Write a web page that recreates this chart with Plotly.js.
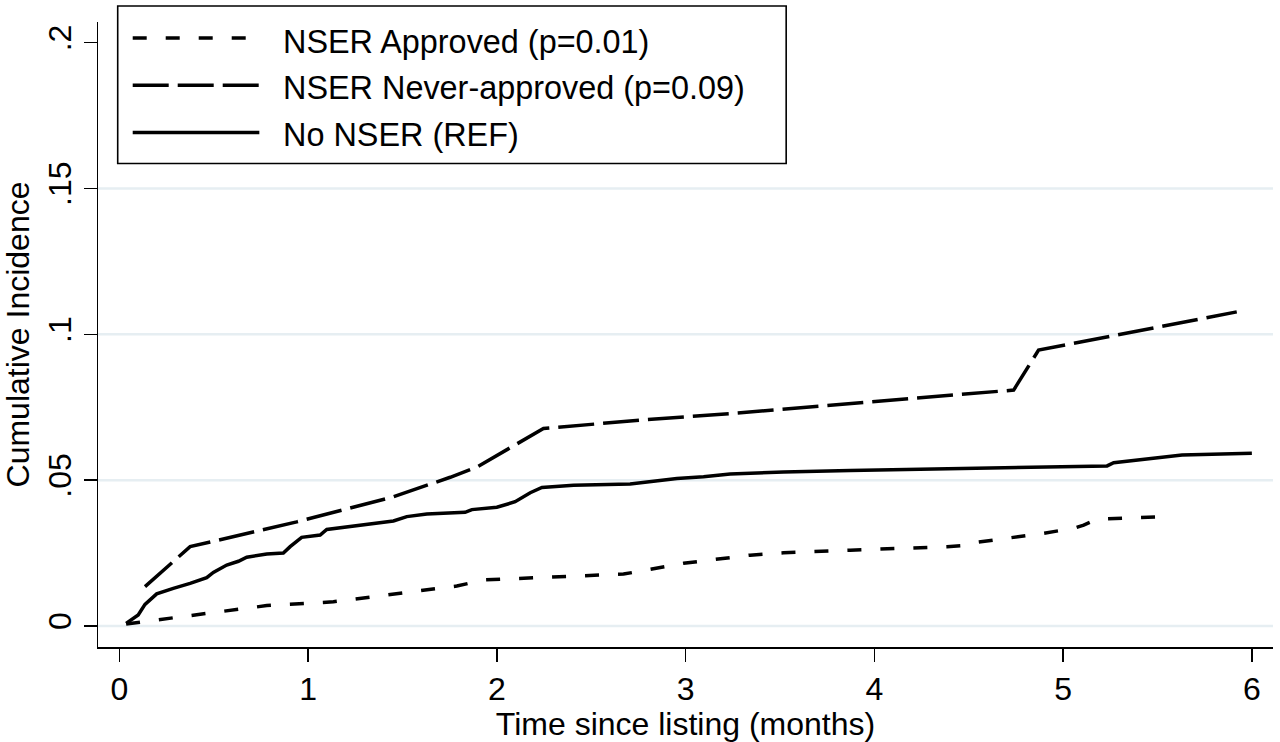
<!DOCTYPE html>
<html>
<head>
<meta charset="utf-8">
<script src="https://cdn.plot.ly/plotly-3.0.1.min.js"></script>
<style>html,body{margin:0;padding:0;background:#fff;}#chart{width:1280px;height:742px;}</style>
</head>
<body>
<div id="chart"></div>
<script>
// ---- Data ----
var seriesNames = ['NSER Approved (p=0.01)', 'NSER Never-approved (p=0.09)', 'No NSER (REF)'];

var approvedX = [0.036, 0.216, 0.428, 0.781, 1.134, 1.488, 1.594, 1.788, 1.929, 2.282, 2.671, 2.795, 2.989, 3.342, 3.519, 3.872, 4.385, 4.508, 4.544, 4.897, 5.056, 5.109, 5.180, 5.524];
var approvedY = [0.0007, 0.0022, 0.0040, 0.0070, 0.0083, 0.0112, 0.0123, 0.0137, 0.0158, 0.0167, 0.0178, 0.0192, 0.0215, 0.0243, 0.0251, 0.0260, 0.0272, 0.0278, 0.0287, 0.0318, 0.0335, 0.0346, 0.0366, 0.0375];

var neverX = [0.136, 0.375, 0.940, 1.452, 1.753, 1.894, 2.247, 2.759, 3.254, 3.872, 4.226, 4.703, 4.738, 4.870, 5.920];
var neverY = [0.0135, 0.0272, 0.0357, 0.0443, 0.0510, 0.0545, 0.0677, 0.0706, 0.0729, 0.0763, 0.0780, 0.0806, 0.0809, 0.0946, 0.1077];

var noNserX = [0.036, 0.100, 0.136, 0.198, 0.286, 0.375, 0.463, 0.498, 0.569, 0.631, 0.675, 0.781, 0.869, 0.905, 0.966, 1.064, 1.099, 1.205, 1.311, 1.452, 1.523, 1.629, 1.832, 1.868, 2.000, 2.097, 2.177, 2.239, 2.406, 2.706, 2.954, 3.095, 3.236, 3.519, 3.872, 4.579, 5.233, 5.268, 5.374, 5.533, 5.630, 6.000];
var noNserY = [0.0009, 0.0038, 0.0074, 0.0110, 0.0129, 0.0146, 0.0166, 0.0184, 0.0209, 0.0222, 0.0236, 0.0247, 0.0250, 0.0272, 0.0304, 0.0312, 0.0331, 0.0340, 0.0346, 0.0360, 0.0375, 0.0384, 0.0390, 0.0399, 0.0407, 0.0426, 0.0457, 0.0475, 0.0483, 0.0487, 0.0506, 0.0512, 0.0521, 0.0528, 0.0533, 0.0540, 0.0549, 0.0560, 0.0567, 0.0577, 0.0586, 0.0592];

var xTickVals = [0, 1, 2, 3, 4, 5, 6];
var yTickVals = [0, 0.05, 0.1, 0.15, 0.2];
var yTickText = ['0', '.05', '.1', '.15', '.2'];
var gridVals = [0, 0.05, 0.1, 0.15];

// ---- Styles ----
var FONT = 'Liberation Sans, Arial, sans-serif';
var dashes = ['14px,19px', '36px,9px', 'solid'];
var LW = 3.5;

var xs = [approvedX, neverX, noNserX];
var ys = [approvedY, neverY, noNserY];

var traces = xs.map(function (x, i) {
  return {
    x: x, y: ys[i], name: seriesNames[i], type: 'scatter', mode: 'lines',
    line: {color: '#000', width: LW, dash: dashes[i], shape: 'linear'},
    showlegend: false, hoverinfo: 'skip'
  };
});

// plot-area geometry (pixels) used to place the hand-drawn legend box
var L = 98, R = 7.3, T = 21.7, B = 95;
var W = 1280 - L - R, H = 742 - T - B;
function px(p) { return (p - L) / W; }
function py(p) { return (742 - B - p) / H; }

var shapes = gridVals.map(function (v) {
  return {type: 'line', xref: 'paper', yref: 'y', x0: 0, x1: 1, y0: v, y1: v,
          line: {color: '#e6eef2', width: 2.5}, layer: 'below'};
});
shapes.push({type: 'rect', xref: 'paper', yref: 'paper', x0: px(117.7), x1: px(786), y0: py(5.7), y1: py(163.3),
             line: {color: '#000', width: 1.6}, fillcolor: '#fff', layer: 'above'});
var rowLineY = [37.8, 85, 132.3];
var rowTextY = [41.3, 88, 134.7];
var annotations = [];
seriesNames.forEach(function (n, i) {
  shapes.push({type: 'line', xref: 'paper', yref: 'paper', x0: px(132.7), x1: px(259.3), y0: py(rowLineY[i]), y1: py(rowLineY[i]),
               line: {color: '#000', width: LW, dash: dashes[i]}, layer: 'above'});
  annotations.push({xref: 'paper', yref: 'paper', x: px(280.5), y: py(rowTextY[i]), xanchor: 'left', yanchor: 'middle',
                    text: n, showarrow: false, font: {family: FONT, size: 32.4, color: '#000'}});
});

var layout = {
  width: 1280, height: 742,
  margin: {l: L, r: R, t: T, b: B, pad: 0},
  paper_bgcolor: '#fff', plot_bgcolor: '#fff',
  font: {family: FONT, size: 32, color: '#000'},
  xaxis: {
    range: [-0.113, 6.112], tickvals: xTickVals, ticks: 'outside', ticklen: 13, tickwidth: 1.5, tickcolor: '#000',
    showline: true, linecolor: '#000', linewidth: 1.5, showgrid: false, zeroline: false,
    tickfont: {family: FONT, size: 32, color: '#000'},
    title: {text: 'Time since listing (months)', font: {family: FONT, size: 32, color: '#000'}, standoff: 0},
    fixedrange: true
  },
  yaxis: {
    range: [-0.0072, 0.2071], tickvals: yTickVals, ticktext: yTickText, tickangle: -90,
    ticks: 'outside', ticklen: 13, tickwidth: 1.5, tickcolor: '#000',
    showline: true, linecolor: '#000', linewidth: 1.5, showgrid: false, zeroline: false,
    tickfont: {family: FONT, size: 32, color: '#000'},
    title: {text: 'Cumulative Incidence', font: {family: FONT, size: 32, color: '#000'}, standoff: 2},
    fixedrange: true
  },
  shapes: shapes,
  annotations: annotations,
  showlegend: false
};

Plotly.newPlot('chart', traces, layout, {displayModeBar: false, staticPlot: true});
</script>
</body>
</html>
